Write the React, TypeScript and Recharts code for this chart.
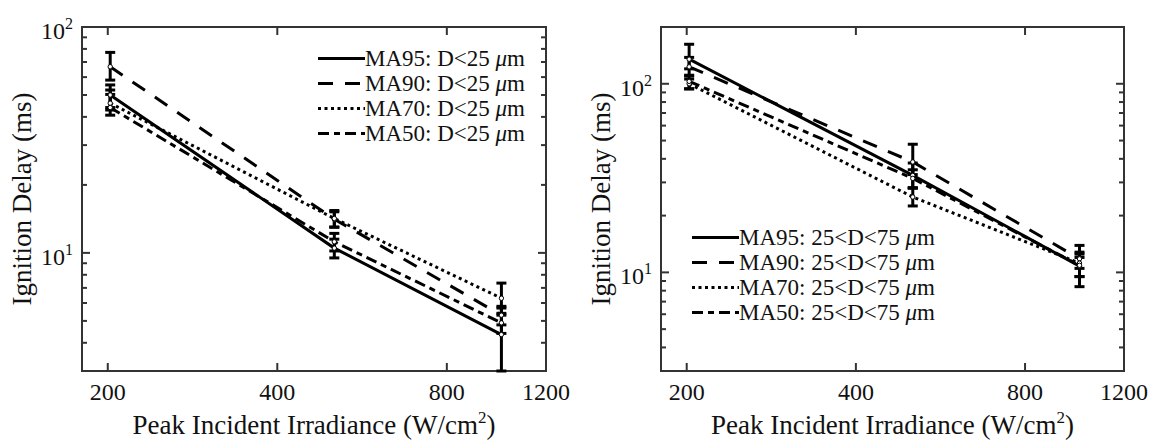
import React from 'react';
import { LineChart, Line, XAxis, YAxis, ErrorBar, ReferenceArea, Legend } from 'recharts';

const FONT = 'Liberation Serif, Times New Roman, serif';
const INK = '#111';

const irradiance = [202, 505, 1000];
const xTicks = [200, 400, 800, 1200];

const seriesNames = ['MA95', 'MA90', 'MA70', 'MA50'];

// left panel, D<25 um
const ma95Small = [50, 10.5, 4.35];
const ma90Small = [66.7, 14.1, 5.3];
const ma70Small = [46, 14.2, 6.3];
const ma50Small = [44, 11.2, 4.9];
// [lower, upper] error
const ma95SmallErr = [[6, 5.4], [1.0, 1.0], [1.35, 1.35]];
const ma90SmallErr = [[8.5, 10.5], [1.1, 1.1], [0.5, 0.5]];
const ma70SmallErr = [[3.1, 6.6], [1.2, 1.2], [1.0, 1.05]];
const ma50SmallErr = [[3.3, 6.3], [1.0, 1.0], [0.5, 0.5]];

// right panel, 25<D<75 um
const ma95Large = [135, 32.7, 10.8];
const ma90Large = [123, 38.5, 11.8];
const ma70Large = [100, 25.1, 11.2];
const ma50Large = [103, 31.5, 10.9];
const ma95LargeErr = [[15, 27], [4.7, 5.3], [2.4, 2.0]];
const ma90LargeErr = [[13, 15], [5.5, 9.3], [1.3, 2.1]];
const ma70LargeErr = [[6, 6], [2.6, 3.0], [1.7, 1.3]];
const ma50LargeErr = [[9, 8], [3.5, 3.5], [1.4, 1.1]];

const yTicksSmall = [4, 5, 6, 7, 8, 9, 10, 20, 30, 40, 50, 60, 70, 80, 90, 100];
const yTicksLarge = [4, 5, 6, 7, 8, 9, 10, 20, 30, 40, 50, 60, 70, 80, 90, 100];

const dashes = [undefined, '15 12', '3 3.5', '11 5 6 5'];
const keys = ['ma95', 'ma90', 'ma70', 'ma50'];

const buildRows = (vals: number[][], errs: number[][][]) =>
  irradiance.map((x, i) => {
    const row: any = { x };
    keys.forEach((k, j) => {
      row[k] = vals[j][i];
      row[k + 'Err'] = errs[j][i];
    });
    return row;
  });

const smallRows = buildRows(
  [ma95Small, ma90Small, ma70Small, ma50Small],
  [ma95SmallErr, ma90SmallErr, ma70SmallErr, ma50SmallErr]
);
const largeRows = buildRows(
  [ma95Large, ma90Large, ma70Large, ma50Large],
  [ma95LargeErr, ma90LargeErr, ma70LargeErr, ma50LargeErr]
);

const txt = { fontFamily: FONT, fill: INK } as const;

const YTick = ({ x, y, payload, plotWidth }: any) => {
  const v = payload.value;
  const major = v === 10 || v === 100;
  const len = major ? 8 : 5;
  return (
    <g>
      <line x1={x} x2={x + len} y1={y} y2={y} stroke="#333" strokeWidth={2} />
      <line x1={x + plotWidth} x2={x + plotWidth - len} y1={y} y2={y} stroke="#333" strokeWidth={2} />
      {major && (
        <text x={x - 9} y={y + 12} textAnchor="end" style={{ ...txt, fontSize: 24 }}>
          10<tspan dy={-10} style={{ fontSize: 16 }}>{v === 10 ? '1' : '2'}</tspan>
        </text>
      )}
    </g>
  );
};

const XTick = ({ x, y, payload, plotHeight }: any) => {
  const v = payload.value;
  const edge = v === 1200;
  return (
    <g>
      {!edge && <line x1={x} x2={x} y1={y} y2={y - 8} stroke="#333" strokeWidth={2} />}
      {!edge && <line x1={x} x2={x} y1={y - plotHeight} y2={y - plotHeight + 8} stroke="#333" strokeWidth={2} />}
      <text x={x} y={y + 29} textAnchor="middle" style={{ ...txt, fontSize: 24 }}>
        {v}
      </text>
    </g>
  );
};

const LegendBox = ({ range }: { range: string }) => (
  <div style={{ fontFamily: FONT, fontSize: 23, color: INK }}>
    {seriesNames.map((name, i) => (
      <div key={name} style={{ display: 'flex', alignItems: 'center', height: 25, whiteSpace: 'nowrap' }}>
        <svg width={47} height={25} style={{ display: 'block' }}>
          <line x1={0} x2={47} y1={12.5} y2={12.5} stroke="#000" strokeWidth={3} strokeDasharray={dashes[i]} />
        </svg>
        <span>
          {name}: {range} <i>μ</i>m
        </span>
      </div>
    ))}
  </div>
);

const Panel = ({ rows, yDomain, yTicks, marginLeft, marginRight, range, legendPos }: any) => {
  const W = 576;
  const H = 442;
  const top = 27;
  const plotBottom = 371;
  const plotW = W - marginLeft - marginRight;
  const plotH = plotBottom - top;
  const cx = marginLeft + plotW / 2;
  const cy = top + plotH / 2;
  return (
    <LineChart
      width={W}
      height={H}
      data={rows}
      margin={{ top, right: marginRight, bottom: H - plotBottom - 40, left: marginLeft - 60 }}
    >
      <XAxis
        dataKey="x"
        type="number"
        scale="log"
        domain={[180, 1200]}
        allowDataOverflow
        ticks={xTicks}
        interval={0}
        tickSize={0}
        tickMargin={0}
        axisLine={false}
        tickLine={false}
        height={40}
        tick={(p: any) => <XTick {...p} plotHeight={plotH} />}
        label={() => (
          <text x={cx} y={434} textAnchor="middle" style={{ ...txt, fontSize: 27 }}>
            Peak Incident Irradiance (W/cm<tspan dy={-11} style={{ fontSize: 17 }}>2</tspan>
            <tspan dy={11}>)</tspan>
          </text>
        )}
      />
      <YAxis
        type="number"
        scale="log"
        domain={yDomain}
        allowDataOverflow
        ticks={yTicks}
        interval={0}
        tickSize={0}
        tickMargin={0}
        axisLine={false}
        tickLine={false}
        width={60}
        tick={(p: any) => <YTick {...p} plotWidth={plotW} />}
        label={() => (
          <text
            x={marginLeft - 51}
            y={cy}
            textAnchor="middle"
            transform={`rotate(-90, ${marginLeft - 51}, ${cy})`}
            style={{ ...txt, fontSize: 27 }}
          >
            Ignition Delay (ms)
          </text>
        )}
      />
      <ReferenceArea
        x1={180}
        x2={1200}
        y1={yDomain[0]}
        y2={yDomain[1]}
        fill="none"
        stroke="#333"
        strokeWidth={2}
        ifOverflow="visible"
      />
      {keys.map((k, i) => (
        <Line
          key={k}
          dataKey={k}
          type="linear"
          stroke="#000"
          strokeWidth={3}
          strokeDasharray={dashes[i]}
          dot={{ r: 2.2, fill: '#fff', stroke: '#000', strokeWidth: 1, strokeDasharray: 'none' }}
          activeDot={false}
          isAnimationActive={false}
        >
          <ErrorBar dataKey={k + 'Err'} direction="y" width={5} strokeWidth={3} stroke="#000" />
        </Line>
      ))}
      <Legend
        layout="vertical"
        align="center"
        verticalAlign="middle"
        wrapperStyle={{ left: legendPos[0], top: legendPos[1], width: 'auto', height: 'auto' }}
        content={() => <LegendBox range={range} />}
      />
    </LineChart>
  );
};

export default function App() {
  return (
    <div style={{ position: 'absolute', left: 0, top: 0, width: 1152, height: 442, background: '#fff', display: 'flex' }}>
      <Panel
        rows={smallRows}
        yDomain={[3, 100]}
        yTicks={yTicksSmall}
        marginLeft={82}
        marginRight={30}
        range="D<25"
        legendPos={[318, 46]}
      />
      <Panel
        rows={largeRows}
        yDomain={[3, 200]}
        yTicks={yTicksLarge}
        marginLeft={85}
        marginRight={28}
        range="25<D<75"
        legendPos={[116, 225]}
      />
    </div>
  );
}
